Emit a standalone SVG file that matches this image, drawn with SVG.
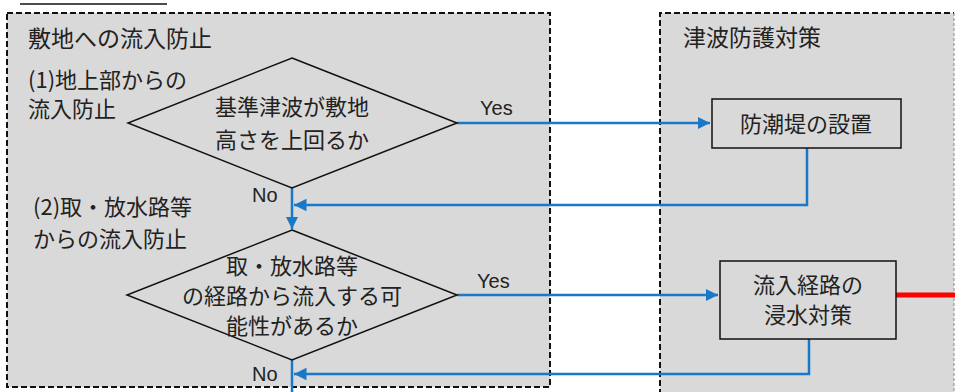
<svg xmlns="http://www.w3.org/2000/svg" width="955" height="392" viewBox="0 0 955 392">
<style>
.panel{fill:#d9d9d9;stroke:#111;stroke-width:2;stroke-dasharray:6 3}
.shape{fill:#d9d9d9;stroke:#111;stroke-width:1.5}
.t{font-family:"Noto Sans CJK JP","Noto Sans",sans-serif;font-size:22px;fill:#222}
.c{text-anchor:middle}
.lbl{font-family:"Liberation Sans","Noto Sans",sans-serif;font-size:20px;fill:#222}
.flow{fill:none;stroke:#1a78c8;stroke-width:2.5}
</style>
<defs>
<marker id="ah" viewBox="0 0 10 10" refX="10" refY="5" markerWidth="5" markerHeight="5" markerUnits="strokeWidth" orient="auto">
<path d="M0,0 L10,5 L0,10 z" fill="#1a78c8"/>
</marker>
</defs>
<rect width="955" height="392" fill="#fff"/>
<line x1="20" y1="4" x2="167" y2="4" stroke="#111" stroke-width="1.5"/>
<g id="panel-left">
<rect class="panel" x="7" y="13" width="543" height="374"/>
<text class="t" x="28" y="47" style="font-size:23px">敷地への流入防止</text>
<text class="t" x="28" y="88">(1)地上部からの</text>
<text class="t" x="28" y="117">流入防止</text>
<text class="t" x="33" y="215">(2)取・放水路等</text>
<text class="t" x="33" y="247">からの流入防止</text>
</g>
<g id="panel-right">
<rect x="660" y="13" width="294" height="382" fill="#d9d9d9"/>
<path d="M660,395 V13 H954" fill="none" stroke="#111" stroke-width="2" stroke-dasharray="6 3"/>
<line x1="954" y1="13" x2="954" y2="392" stroke="#888" stroke-width="1" stroke-dasharray="3 2"/>
<text class="t" x="683" y="46" style="font-size:23px">津波防護対策</text>
</g>
<g id="connectors">
<path class="flow" d="M457,123 H710" marker-end="url(#ah)"/>
<path class="flow" d="M807,148 V205 H294" marker-end="url(#ah)"/>
<path class="flow" d="M292,188 V229" marker-end="url(#ah)"/>
<path class="flow" d="M457,295 H718" marker-end="url(#ah)"/>
<path class="flow" d="M809,339 V374 H294" marker-end="url(#ah)"/>
<path class="flow" d="M292,360 V392"/>
<line x1="896" y1="295" x2="955" y2="295" stroke="#ff0000" stroke-width="5"/>
<text class="lbl" x="480" y="115">Yes</text>
<text class="lbl" x="252" y="202">No</text>
<text class="lbl" x="477" y="288">Yes</text>
<text class="lbl" x="252" y="381">No</text>
</g>
<g id="decision1">
<polygon class="shape" points="292,58 457,123 292,188 128,123"/>
<text class="t c" x="292" y="115">基準津波が敷地</text>
<text class="t c" x="292" y="148">高さを上回るか</text>
</g>
<g id="decision2">
<polygon class="shape" points="292,230 457,295 292,360 127,295"/>
<text class="t c" x="292" y="274">取・放水路等</text>
<text class="t c" x="292" y="304">の経路から流入する可</text>
<text class="t c" x="292" y="334">能性があるか</text>
</g>
<g id="box1">
<rect class="shape" x="712" y="99" width="189" height="49"/>
<text class="t c" x="806" y="132">防潮堤の設置</text>
</g>
<g id="box2">
<rect class="shape" x="720" y="261" width="176" height="78"/>
<text class="t c" x="808" y="293">流入経路の</text>
<text class="t c" x="808" y="323">浸水対策</text>
</g>
</svg>
